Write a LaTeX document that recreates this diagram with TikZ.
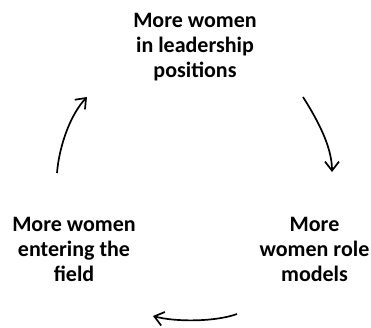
\documentclass[tikz,border=0pt]{standalone}
\usepackage{fontspec}
\setmainfont{Carlito}
\usetikzlibrary{arrows.meta}
\tikzset{
  lbl/.style={anchor=north, inner sep=0pt, align=center, font=\fontsize{22}{25}\selectfont\bfseries, text=black},
  cyc/.style={line width=1.7pt, -{Straight Barb[length=9pt,width=14pt]}}
}
\begin{document}
\begin{tikzpicture}[x=1pt,y=-1pt]
\useasboundingbox (0,0) rectangle (371,327);
\node[lbl] (top) at (195,13) {More women\\in leadership\\positions};
\node[lbl] (right) at (314.5,217) {More\\women role\\models};
\node[lbl] (left) at (74,217) {More women\\entering the\\field};
\coordinate (a1s) at (303,97);
\coordinate (a1e) at (332,172);
\coordinate (a2s) at (237,314);
\coordinate (a2e) at (153,316);
\coordinate (a3s) at (57,173);
\coordinate (a3e) at (87,97);
\draw[cyc] (a1s) .. controls (315,116) and (332,145) .. (a1e);
\draw[cyc] (a2s) .. controls (215,322) and (175,322) .. (a2e);
\draw[cyc] (a3s) .. controls (59,147) and (70,115) .. (a3e);
\end{tikzpicture}
\end{document}
